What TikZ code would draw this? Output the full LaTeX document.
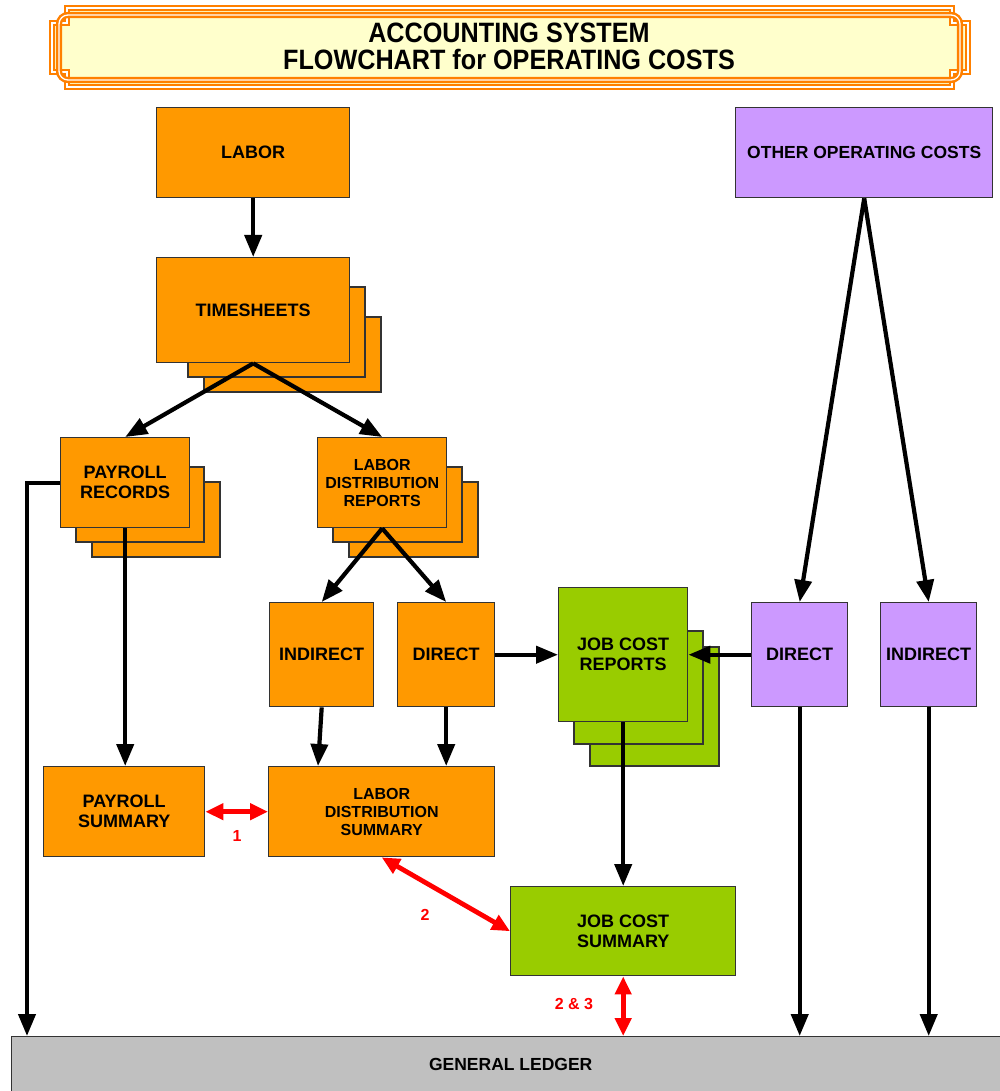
\documentclass[tikz,border=0pt]{standalone}
\usepackage{fontspec}
\setmainfont{Liberation Sans}
\newfontfamily\titlefont[FakeStretch=0.9]{Liberation Sans}
\usetikzlibrary{arrows.meta,calc}
\definecolor{orng}{HTML}{FF9900}
\definecolor{grn}{HTML}{99CC00}
\definecolor{purp}{HTML}{CC99FF}
\definecolor{gry}{HTML}{C0C0C0}
\definecolor{ttl}{HTML}{FFFFCC}
\definecolor{framec}{HTML}{FF8000}
\begin{document}
\begin{tikzpicture}[x=1pt,y=-1pt,
 box/.style={draw=black!80, line width=1.4pt, inner sep=0pt, align=center, anchor=north west, font=\bfseries\fontsize{18}{20}\selectfont},
 sheet/.style={draw=black!80, line width=1.4pt},
 arr/.style={line width=4.2pt, -{Triangle[length=22pt,width=17pt]}},
 redarr/.style={red, line width=4.8pt, {Triangle[length=18pt,width=16pt]}-{Triangle[length=18pt,width=16pt]}},
 redlbl/.style={red, font=\bfseries\fontsize{16}{18}\selectfont},
 fr/.style={draw=framec, line width=2.4pt, double=white, double distance=1.3pt}
]
\useasboundingbox (0,0) rectangle (1000,1091);
\fill[white] (0,0) rectangle (1000,1091);

% title banner
\fill[ttl] (67,8) -- (952,8) -- (952,23) -- (968,23) -- (968,72) -- (952,72) -- (952,87) -- (67,87) -- (67,72) -- (52,72) -- (52,23) -- (67,23) -- cycle;
\draw[fr] (67,8) -- (952,8) -- (952,23) -- (968,23) -- (968,72) -- (952,72) -- (952,87) -- (67,87) -- (67,72) -- (52,72) -- (52,23) -- (67,23) -- cycle;
\draw[fr, rounded corners=9pt] (59,15) rectangle (960,80);
\node[font=\titlefont\bfseries\fontsize{28}{27}\selectfont, align=center] (title) at (509,46.5) {ACCOUNTING SYSTEM\\FLOWCHART for OPERATING COSTS};

% labor
\node[box, fill=orng, minimum width=193, minimum height=90] (labor) at (156,107) {LABOR};

% timesheets stack
\draw[sheet, fill=orng] (204,317) rectangle (381,392);
\draw[sheet, fill=orng] (188,287) rectangle (365,377);
\node[box, fill=orng, minimum width=193, minimum height=105] (ts) at (156,257) {TIMESHEETS};

% payroll records stack
\draw[sheet, fill=orng] (92,482) rectangle (220,557);
\draw[sheet, fill=orng] (76,467) rectangle (204,542);
\node[box, fill=orng, minimum width=129, minimum height=90] (pr) at (60,437) {PAYROLL\\RECORDS};

% labor distribution reports stack
\draw[sheet, fill=orng] (349,482) rectangle (478,557);
\draw[sheet, fill=orng] (333,467) rectangle (462,542);
\node[box, fill=orng, minimum width=129, minimum height=90, font=\bfseries\fontsize{16}{18}\selectfont] (ldr) at (317,437) {LABOR\\DISTRIBUTION\\REPORTS};

% indirect / direct labor
\node[box, fill=orng, minimum width=104, minimum height=104] (ind) at (269,602) {INDIRECT};
\node[box, fill=orng, minimum width=97, minimum height=104] (dir) at (397,602) {DIRECT};

% job cost reports stack
\draw[sheet, fill=grn] (590,647) rectangle (719,766);
\draw[sheet, fill=grn] (574,631) rectangle (703,744);
\node[box, fill=grn, minimum width=129, minimum height=134] (jcr) at (558,587) {JOB COST\\REPORTS};

% other operating costs
\node[box, fill=purp, minimum width=257, minimum height=90, font=\bfseries\fontsize{17.5}{20}\selectfont] (ooc) at (735,107) {OTHER OPERATING COSTS};
\node[box, fill=purp, minimum width=96, minimum height=104] (pdir) at (751,602) {DIRECT};
\node[box, fill=purp, minimum width=96, minimum height=104] (pind) at (880,602) {INDIRECT};

% summaries
\node[box, fill=orng, minimum width=161, minimum height=90] (ps) at (43,766) {PAYROLL\\SUMMARY};
\node[box, fill=orng, minimum width=226, minimum height=90, font=\bfseries\fontsize{16}{18}\selectfont] (lds) at (268,766) {LABOR\\DISTRIBUTION\\SUMMARY};
\node[box, fill=grn, minimum width=225, minimum height=89] (jcs) at (510,886) {JOB COST\\SUMMARY};

% general ledger
\node[box, fill=gry, minimum width=1000, minimum height=56, font=\bfseries\fontsize{17.5}{20}\selectfont] (gl) at (11,1036) {\hspace*{-2pt}GENERAL LEDGER};
\coordinate (glleft) at (27,1036);

% black connectors
\draw[arr] (labor.south) -- (ts.north);
\draw[arr] (ts.south) -- (pr.north);
\draw[arr] (ts.south) -- (ldr.north);
\draw[arr] (pr.west) -| (glleft);
\draw[arr] (pr.south) -- (pr.south |- ps.north);
\draw[arr] (ldr.south) -- (ind.north);
\draw[arr] (ldr.south) -- (dir.north);
\draw[arr] (ind.south) -- ($(lds.north west)+(50,0)$);
\draw[arr] (dir.south) -- (dir.south |- lds.north);
\draw[arr] (dir.east) -- (jcr.west |- dir.east);
\draw[arr] (pdir.west) -- (jcr.east |- pdir.west);
\draw[arr] (ooc.south) -- (pdir.north);
\draw[arr] (ooc.south) -- (pind.north);
\draw[arr] (jcr.south) -- (jcr.south |- jcs.north);
\draw[arr] (pdir.south) -- (pdir.south |- gl.north);
\draw[arr] (pind.south) -- (pind.south |- gl.north);

% red reconciliation arrows
\draw[redarr] (ps.east) -- (lds.west);
\draw[redarr] (lds.south) -- (jcs.west);
\draw[redarr] (jcs.south) -- (jcs.south |- gl.north);
\node[redlbl] (l1) at (237,836) {1};
\node[redlbl] (l2) at (425,915) {2};
\node[redlbl] (l3) at (574,1004) {2 \& 3};
\end{tikzpicture}
\end{document}
